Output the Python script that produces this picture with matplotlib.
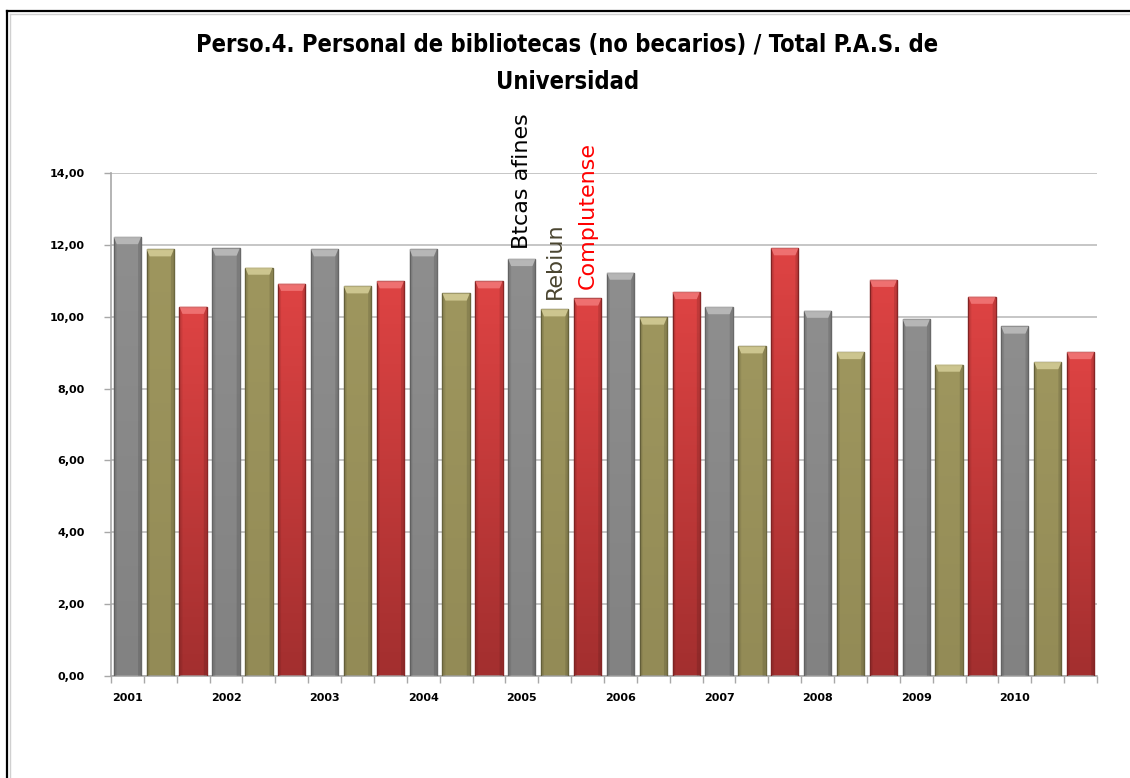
import numpy as np
import matplotlib.pyplot as plt
from matplotlib.patches import Polygon
from matplotlib.lines import Line2D
from matplotlib.colors import LinearSegmentedColormap

# Ratio of library staff (excluding grant holders) to total university P.A.S.
years = ['2001', '2002', '2003', '2004', '2005', '2006', '2007', '2008', '2009', '2010']
series_names = ['Btcas afines', 'Rebiun', 'Complutense']
btcas = [12.22, 11.90, 11.88, 11.88, 11.61, 11.23, 10.27, 10.17, 9.93, 9.73]
rebiun = [11.88, 11.37, 10.85, 10.65, 10.21, 9.98, 9.18, 9.02, 8.67, 8.74]
complutense = [10.28, 10.92, 10.99, 10.99, 10.51, 10.69, 11.91, 11.03, 10.56, 9.02]
yticks = [0, 2, 4, 6, 8, 10, 12, 14]
ytick_labels = ['0,00', '2,00', '4,00', '6,00', '8,00', '10,00', '12,00', '14,00']
label_year = '2005'

# bottom colour, top colour, edge, bevel highlight
styles = {
    'Btcas afines': ('#828282', '#8e8e8e', '#6a6a6a', '#c4c4c4'),
    'Rebiun': ('#938b56', '#9e965e', '#6c673e', '#ddd6a0'),
    'Complutense': ('#a32f2f', '#de4343', '#8a2626', '#f58080'),
}
name_colors = {'Btcas afines': 'black', 'Rebiun': '#4a4530', 'Complutense': '#ff0000'}

# interleave the three series year by year: one category per bar
values = []
names = []
for i in range(len(years)):
    for name, s in zip(series_names, [btcas, rebiun, complutense]):
        values.append(s[i])
        names.append(name)
x = np.arange(len(values))

fig = plt.figure(figsize=(11.3, 7.78), dpi=100)
ax = fig.add_axes([0.0982, 0.1311, 0.8726, 0.6465])

ax.set_axisbelow(True)
ax.yaxis.grid(True, color='#c6c6c6', linewidth=1.4)
width = 0.83
grad = np.linspace(0, 1, 100).reshape(-1, 1)
bars = ax.bar(x, values, width=width, color='none', linewidth=1.0, zorder=2)
for rect, name, v in zip(bars, names, values):
    c0, c1, edge, hi = styles[name]
    cmap = LinearSegmentedColormap.from_list('g', [c0, c1])
    x0 = rect.get_x()
    img = ax.imshow(grad, extent=(x0, x0 + width, 0, v), origin='lower', aspect='auto',
                    cmap=cmap, zorder=2)
    img.set_clip_path(rect)
    rect.set_edgecolor(edge)
    rect.set_zorder(3)
    # bevelled cap on top of the bar
    dx, dy = 0.09, 0.2
    cap = Polygon([(x0, v), (x0 + width, v), (x0 + width - dx, v - dy), (x0 + dx, v - dy)],
                  closed=True, facecolor=hi, edgecolor='none', alpha=0.75, zorder=4)
    ax.add_patch(cap)
    # darker side shading
    ax.add_patch(Polygon([(x0, 0), (x0, v), (x0 + dx, v - dy), (x0 + dx, 0)],
                         closed=True, facecolor='black', alpha=0.08, edgecolor='none', zorder=4))
    ax.add_patch(Polygon([(x0 + width, 0), (x0 + width, v), (x0 + width - dx, v - dy),
                          (x0 + width - dx, 0)],
                         closed=True, facecolor='black', alpha=0.12, edgecolor='none', zorder=4))

# series names written vertically above the bars of one year
k = years.index(label_year)
for j, name in enumerate(series_names):
    idx = 3 * k + j
    ax.annotate(name, (x[idx], values[idx]), xytext=(0, 7), textcoords='offset points',
                rotation=90, ha='center', va='bottom', fontsize=16,
                color=name_colors[name], zorder=5)

ax.set_xlim(-0.5, len(values) - 0.5)
ax.set_ylim(0, 14)
ax.set_yticks(yticks)
ax.set_yticklabels(ytick_labels, fontsize=8, fontweight='bold')
ax.set_xticks(x[::3])
ax.set_xticklabels(years, fontsize=8, fontweight='bold')
ax.set_xticks(np.arange(len(values) + 1) - 0.5, minor=True)
ax.tick_params(axis='x', which='major', length=0, pad=12)
ax.tick_params(axis='x', which='minor', length=5, color='#a8a8a8', width=1)
ax.tick_params(axis='y', length=5, color='#a8a8a8', width=1, pad=14)
for side in ['top', 'right']:
    ax.spines[side].set_visible(False)
for side in ['left', 'bottom']:
    ax.spines[side].set_color('#a8a8a8')
    ax.spines[side].set_linewidth(1.2)

fig.text(0.502, 0.918, 'Perso.4. Personal de bibliotecas (no becarios) / Total P.A.S. de\nUniversidad',
         ha='center', va='center', fontsize=17, fontweight='bold', linespacing=1.7,
         fontstretch='condensed', family=['DejaVu Sans'])

# chart frame (left and top edges)
fig.add_artist(Line2D([7 / 1130, 7 / 1130], [0, 1 - 11 / 778], color='black', linewidth=1.6))
fig.add_artist(Line2D([7 / 1130, 1], [1 - 11 / 778, 1 - 11 / 778], color='black', linewidth=1.6))
fig.add_artist(Line2D([10 / 1130, 10 / 1130], [0, 1 - 14 / 778], color='#d0d0d0', linewidth=1))
fig.add_artist(Line2D([10 / 1130, 1], [1 - 14 / 778, 1 - 14 / 778], color='#d0d0d0', linewidth=1))

plt.savefig('out.png', dpi=100)
